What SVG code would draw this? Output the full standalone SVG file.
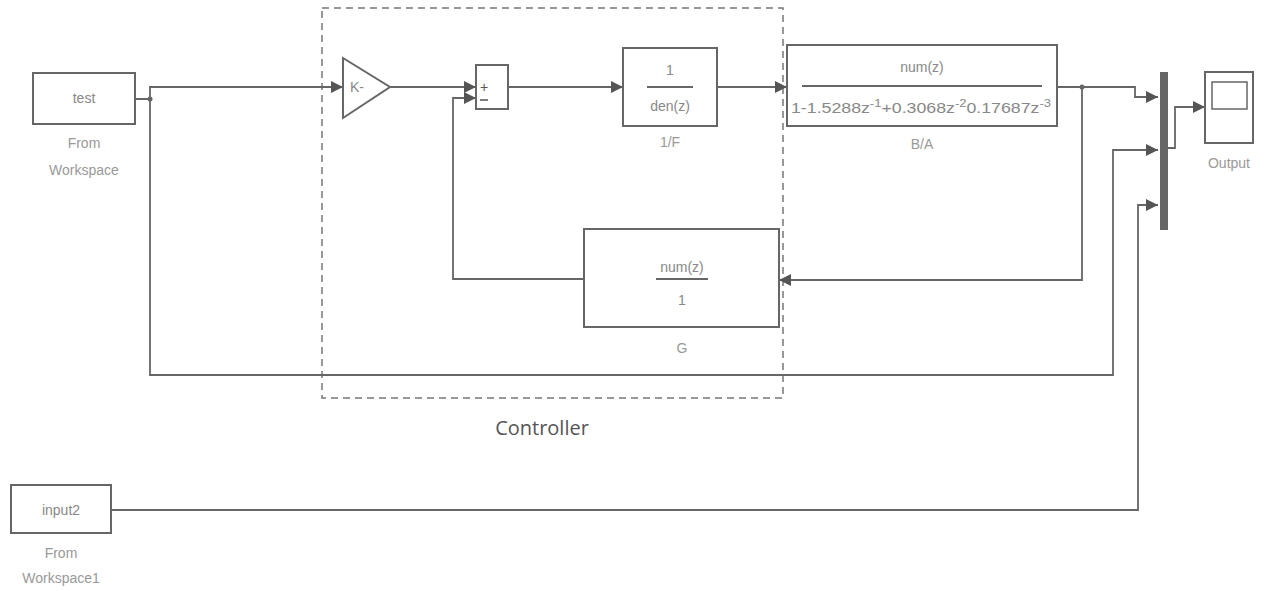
<svg xmlns="http://www.w3.org/2000/svg" width="1267" height="591" viewBox="0 0 1267 591">
<style>
.blk{fill:#fff;stroke:#666;stroke-width:2}
.ln{fill:none;stroke:#666;stroke-width:1.8}
.t{font-family:"Liberation Sans",Arial,sans-serif;font-size:14px;fill:#888;text-anchor:middle}
.lbl{font-family:"Liberation Sans",Arial,sans-serif;font-size:14px;fill:#999;text-anchor:middle}
.den{font-family:"Liberation Sans",Arial,sans-serif;font-size:15px;fill:#888;text-anchor:start}
.ctl{font-family:"Open Sans","Liberation Sans",sans-serif;font-size:20px;fill:#555;text-anchor:middle}
.frac{stroke:#666;stroke-width:1.8}
</style>
<defs>
<marker id="ah" viewBox="0 0 12 12" refX="12" refY="6" markerWidth="12" markerHeight="12" markerUnits="userSpaceOnUse" orient="auto">
<path d="M0,0 L12,6 L0,12 Z" fill="#555"/>
</marker>
</defs>
<rect x="322" y="8" width="461" height="390" fill="none" stroke="#777" stroke-width="1.5" stroke-dasharray="7,5"/>
<text class="ctl" x="542" y="435">Controller</text>
<g id="connectors">
<path class="ln" d="M135,99 H150 V87 H343" marker-end="url(#ah)"/>
<path class="ln" d="M150,99 V375 H1113 V150 H1158" marker-end="url(#ah)"/>
<circle cx="150" cy="99" r="2.5" fill="#666"/>
<path class="ln" d="M390,87 H476" marker-end="url(#ah)"/>
<path class="ln" d="M508,87 H623" marker-end="url(#ah)"/>
<path class="ln" d="M717,87 H787" marker-end="url(#ah)"/>
<path class="ln" d="M1057,87 H1135 V97 H1158" marker-end="url(#ah)"/>
<circle cx="1082" cy="87" r="2.5" fill="#666"/>
<path class="ln" d="M1082,87 V280 H779" marker-end="url(#ah)"/>
<path class="ln" d="M584,279 H453 V98 H476" marker-end="url(#ah)"/>
<path class="ln" d="M111,510 H1138 V205 H1158" marker-end="url(#ah)"/>
<path class="ln" d="M1168,148 H1175 V107 H1205" marker-end="url(#ah)"/>
</g>
<g id="test">
<rect class="blk" x="33" y="73" width="102" height="51"/>
<text class="t" x="84" y="103">test</text>
<text class="lbl" x="84" y="148">From</text>
<text class="lbl" x="84" y="175">Workspace</text>
</g>
<g id="gain">
<path class="blk" d="M343,58 L390,87 L343,118 Z"/>
<text class="t" x="357" y="92">K-</text>
</g>
<g id="sum">
<rect class="blk" x="476" y="65" width="32" height="44"/>
<text x="484" y="92" font-family="Liberation Sans,Arial,sans-serif" font-size="14" fill="#555" text-anchor="middle">+</text>
<line x1="480" y1="100" x2="488" y2="100" stroke="#555" stroke-width="1.5"/>
</g>
<g id="F">
<rect class="blk" x="623" y="48" width="94" height="78"/>
<text class="t" x="670" y="75">1</text>
<line class="frac" x1="647" y1="87" x2="693" y2="87"/>
<text class="t" x="670" y="111">den(z)</text>
<text class="lbl" x="670" y="147">1/F</text>
</g>
<g id="BA">
<rect class="blk" x="787" y="45" width="270" height="81"/>
<text class="t" x="922" y="72">num(z)</text>
<line class="frac" x1="802" y1="86" x2="1042" y2="86"/>
<text class="den" x="791" y="113" textLength="260" lengthAdjust="spacingAndGlyphs">1-1.5288z<tspan font-size="11" dy="-6">-1</tspan><tspan dy="6">+0.3068z</tspan><tspan font-size="11" dy="-6">-2</tspan><tspan dy="6">0.17687z</tspan><tspan font-size="11" dy="-6">-3</tspan></text>
<text class="lbl" x="922" y="149">B/A</text>
</g>
<g id="G">
<rect class="blk" x="584" y="229" width="195" height="98"/>
<text class="t" x="682" y="272">num(z)</text>
<line class="frac" x1="656" y1="279" x2="708" y2="279"/>
<text class="t" x="682" y="305">1</text>
<text class="lbl" x="682" y="353">G</text>
</g>
<g id="mux">
<rect x="1160" y="72" width="8" height="158" fill="#666"/>
</g>
<g id="output">
<rect class="blk" x="1205" y="72" width="48" height="71"/>
<rect x="1212" y="82" width="35" height="27" fill="#fff" stroke="#666" stroke-width="1.5"/>
<text class="lbl" x="1229" y="168">Output</text>
</g>
<g id="input2">
<rect class="blk" x="11" y="485" width="100" height="48"/>
<text class="t" x="61" y="515">input2</text>
<text class="lbl" x="61" y="558">From</text>
<text class="lbl" x="61" y="583">Workspace1</text>
</g>
</svg>
